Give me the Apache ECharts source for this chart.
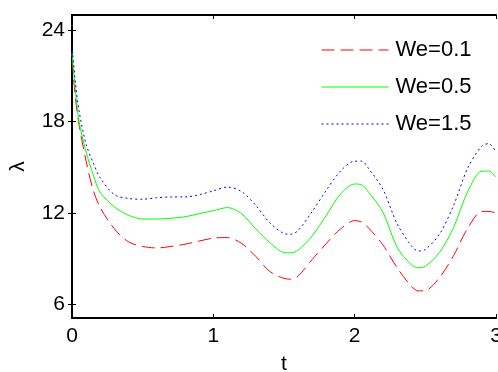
<!DOCTYPE html>
<html><head><meta charset="utf-8">
<script src="https://cdn.jsdelivr.net/npm/echarts@6/dist/echarts.min.js"></script>
<style>html,body{margin:0;padding:0;background:#fff}#c{width:498px;height:372px}</style>
</head><body><div id="c"></div>
<script>
const tVals = [0,0.025,0.05,0.1,0.15,0.2,0.3,0.4,0.5,0.6,0.7,0.8,0.9,1.0,1.1,1.2,1.3,1.4,1.5,1.55,1.6,1.7,1.8,1.9,2.0,2.05,2.1,2.2,2.3,2.4,2.45,2.5,2.6,2.7,2.8,2.9,2.95,3.0];
const we01 = [22.0,19.5,17.8,15.4,13.5,12.35,10.95,10.1,9.8,9.7,9.8,9.95,10.15,10.35,10.38,10.0,9.15,8.15,7.7,7.65,7.85,8.95,10.0,10.95,11.5,11.4,11.0,9.9,8.4,7.2,6.88,6.9,7.75,9.2,11.0,12.1,12.1,12.0];
const we05 = [22.5,20.0,18.0,16.0,14.5,13.35,12.4,11.85,11.6,11.6,11.65,11.75,11.95,12.15,12.35,11.95,10.95,10.05,9.4,9.38,9.55,10.5,11.85,13.25,13.9,13.85,13.35,12.05,9.75,8.6,8.4,8.5,9.4,11.05,13.4,14.75,14.75,14.35];
const we15 = [23.0,20.5,18.7,16.5,15.3,14.3,13.2,12.95,12.9,13.0,13.05,13.05,13.2,13.45,13.7,13.4,12.5,11.35,10.65,10.6,10.85,12.1,13.5,14.75,15.4,15.4,14.9,13.55,11.3,9.85,9.5,9.6,10.6,12.5,14.95,16.4,16.55,16.0];
const seriesNames = ['We=0.1','We=0.5','We=1.5'];
const xTicks = [0,1,2,3];
const yTicks = [6,12,18,24];

const pair = arr => tVals.map((t,i)=>[t,arr[i]]);
const font = 'Liberation Sans, Arial, sans-serif';
const chart = echarts.init(document.getElementById('c'));
const axisLineStyle = {show:true, lineStyle:{color:'#000', width:2}};
chart.setOption({
  animation:false,
  grid:{left:72, right:2, top:15, bottom:54, outerBoundsMode:'none', containLabel:false},
  legend:{
    left:321, top:39, padding:0, orient:'vertical', itemWidth:67, itemHeight:17, itemGap:15,
    itemStyle:{opacity:0},
    lineStyle:{width:1},
    textStyle:{fontFamily:font, fontSize:22, lineHeight:17, color:'#000', padding:[0,0,0,2]},
    data:seriesNames
  },
  xAxis:[{
    type:'value', min:0, max:3, interval:1,
    axisLine:axisLineStyle,
    axisTick:{inside:true, length:4, lineStyle:{color:'#000'}},
    axisLabel:{fontFamily:font, fontSize:21, color:'#000', margin:8, customValues:xTicks},
    splitLine:{show:false},
    name:'t', nameLocation:'middle', nameGap:36, nameTextStyle:{fontFamily:font, fontSize:21, color:'#000'}
  },{
    type:'value', min:0, max:3, interval:1, position:'top',
    axisLine:axisLineStyle,
    axisTick:{inside:true, length:4, lineStyle:{color:'#000'}},
    axisLabel:{show:false}, splitLine:{show:false}
  }],
  yAxis:[{
    type:'value', min:5.1, max:25,
    axisLine:axisLineStyle,
    axisTick:{inside:true, length:4, lineStyle:{color:'#000'}, customValues:yTicks},
    axisLabel:{fontFamily:font, fontSize:21, color:'#000', margin:7, customValues:yTicks},
    splitLine:{show:false},
    name:'λ', nameLocation:'middle', nameGap:43, nameRotate:90,
    nameTextStyle:{fontFamily:font, fontSize:21, color:'#000'}
  },{
    type:'value', min:5.1, max:25, position:'right',
    axisLine:axisLineStyle,
    axisTick:{inside:true, length:4, lineStyle:{color:'#000'}, customValues:yTicks},
    axisLabel:{show:false}, splitLine:{show:false}
  }],
  series:[
    {name:seriesNames[0], type:'line', data:pair(we01), smooth:0.3, symbol:'none',
     lineStyle:{color:'#ff0000', width:1, type:[13,6]}, itemStyle:{color:'#ff0000'}},
    {name:seriesNames[1], type:'line', data:pair(we05), smooth:0.3, symbol:'none',
     lineStyle:{color:'#00ff00', width:1, type:'solid'}, itemStyle:{color:'#00ff00'}},
    {name:seriesNames[2], type:'line', data:pair(we15), smooth:0.3, symbol:'none',
     lineStyle:{color:'#0000ff', width:1, type:[2,3]}, itemStyle:{color:'#0000ff'}}
  ]
});
</script></body></html>
